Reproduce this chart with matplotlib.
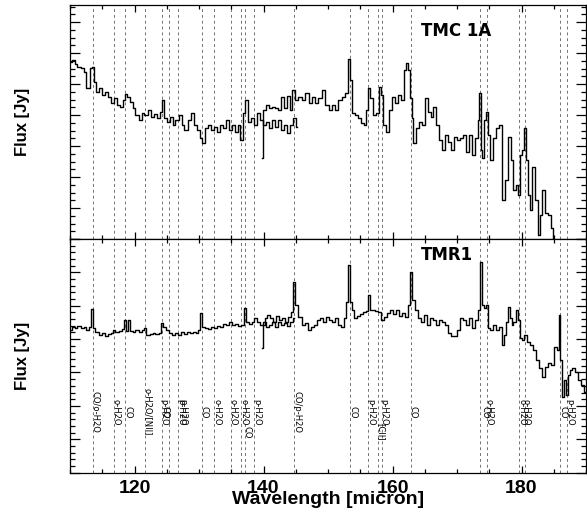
import matplotlib
matplotlib.use('Agg')
import matplotlib.pyplot as plt
from matplotlib.ticker import MultipleLocator

# TMC 1A, two overlapping spectral segments (wavelength in micron, flux in Jy)
tmc_wave_a = [110.0, 110.5, 110.9, 111.4, 111.9, 112.3, 112.8, 113.3, 113.6, 113.9,
              114.2, 114.7, 115.1, 115.6, 116.1, 116.5, 117.0, 117.5, 117.9, 118.4,
              118.7, 119.0, 119.5, 119.9, 120.4, 120.9, 121.3, 121.8, 122.3, 122.7,
              123.2, 123.7, 124.1, 124.3, 124.8, 125.2, 125.7, 126.1, 126.6, 127.1,
              127.5, 128.0, 128.5, 128.9, 129.4, 129.9, 130.3, 130.7, 131.1, 131.6,
              132.0, 132.5, 133.0, 133.4, 133.9, 134.4, 134.8, 135.3, 135.8, 136.2,
              136.6, 137.0, 137.3, 137.8, 138.3, 138.7, 139.2, 139.7, 140.1, 140.6,
              141.1, 141.5, 142.0, 142.5, 142.9, 143.4, 143.9, 144.3, 144.8, 145.2]
tmc_flux_a = [5.71, 5.77, 5.65, 5.55, 5.52, 5.39, 4.87, 5.52, 5.55, 5.06,
              4.74, 4.87, 4.65, 4.74, 4.58, 4.39, 4.55, 4.32, 4.26, 4.48,
              4.68, 4.58, 4.42, 4.23, 4.00, 3.84, 4.06, 4.00, 4.16, 3.94,
              4.03, 3.90, 4.10, 4.48, 3.90, 3.77, 3.94, 3.68, 3.84, 4.00,
              3.68, 3.52, 3.84, 4.06, 3.68, 3.52, 3.26, 3.10, 3.58, 3.68,
              3.52, 3.61, 3.45, 3.68, 3.58, 3.84, 3.52, 3.68, 3.45, 3.68,
              3.19, 4.06, 4.48, 3.77, 3.90, 3.68, 4.06, 3.84, 3.68, 3.77,
              3.58, 3.84, 3.61, 3.84, 3.52, 3.68, 3.42, 3.68, 3.90, 3.60]

tmc_wave_b = [139.8, 140.1, 140.6, 141.1, 141.5, 142.0, 142.5, 142.9, 143.4, 143.9,
              144.3, 144.6, 145.1, 145.7, 146.2, 146.8, 147.3, 147.7, 148.2, 148.8,
              149.3, 149.8, 150.4, 150.8, 151.3, 151.9, 152.4, 152.9, 153.2, 153.5,
              153.9, 154.4, 154.9, 155.3, 155.8, 156.1, 156.4, 156.7, 157.2, 157.7,
              158.0, 158.3, 158.8, 159.2, 159.7, 160.2, 160.6, 161.1, 161.6, 161.9,
              162.2, 162.5, 162.8, 163.1, 163.4, 163.9, 164.3, 164.8, 165.3, 165.7,
              166.2, 166.5, 167.0, 167.5, 167.9, 168.4, 168.9, 169.3, 169.8, 170.2,
              170.7, 171.2, 171.6, 172.1, 172.6, 173.0, 173.4, 173.5, 173.8, 174.0,
              174.4, 174.6, 174.9, 175.4, 175.8, 176.3, 176.8, 177.2, 177.7, 178.2,
              178.6, 178.9, 179.3, 179.6, 179.9, 180.2, 180.5, 180.8, 181.1, 181.4,
              181.9, 182.4, 182.7, 183.1, 183.4, 183.9, 184.4, 184.7, 185.0, 185.5]
tmc_flux_b = [2.61, 4.16, 4.32, 4.23, 4.26, 4.23, 4.16, 4.58, 4.23, 4.61,
              4.16, 4.81, 4.48, 4.58, 4.48, 4.71, 4.39, 4.58, 4.39, 4.55,
              4.81, 4.32, 4.16, 4.32, 4.16, 4.48, 4.58, 4.71, 5.81, 5.13,
              4.06, 4.00, 3.90, 3.74, 3.68, 4.16, 4.87, 4.55, 4.00, 4.06,
              4.90, 4.65, 3.68, 3.45, 4.16, 4.58, 4.39, 4.65, 4.48, 5.45,
              5.68, 5.45, 4.55, 3.90, 3.10, 3.58, 3.77, 3.68, 4.55, 4.10,
              3.94, 4.26, 3.68, 3.19, 2.87, 3.35, 3.13, 2.87, 3.29, 3.19,
              3.26, 3.35, 2.81, 3.35, 2.71, 3.26, 3.84, 4.71, 2.87, 2.61,
              3.84, 4.10, 3.35, 2.55, 3.26, 3.58, 3.68, 1.26, 1.90, 3.29,
              2.55, 1.58, 1.74, 1.42, 2.71, 2.87, 3.58, 2.55, 1.42, 0.94,
              2.32, 1.26, 0.13, 0.77, 1.58, 0.84, 0.77, 0.35, -0.20, -0.80]

# TMR1
tmr_wave_a = [110.0, 110.5, 110.9, 111.4, 111.9, 112.3, 112.8, 113.1, 113.4, 113.7,
              114.2, 114.7, 115.1, 115.6, 116.1, 116.5, 116.8, 117.3, 117.8, 118.2,
              118.5, 118.9, 119.2, 119.5, 119.9, 120.4, 120.9, 121.3, 121.6, 122.1,
              122.6, 123.0, 123.5, 124.0, 124.3, 124.6, 125.1, 125.5, 126.0, 126.5,
              126.9, 127.4, 127.9, 128.3, 128.8, 129.3, 129.7, 130.0, 130.3, 130.7,
              131.1, 131.6, 132.0, 132.5, 133.0, 133.4, 133.9, 134.4, 134.8, 135.3,
              135.8, 136.2, 136.7, 137.2, 137.5, 138.0, 138.4, 138.7, 139.2, 139.7,
              140.1, 140.6, 141.1, 141.5, 142.0, 142.5, 142.9, 143.4, 143.9, 144.3,
              144.8]
tmr_flux_a = [4.28, 4.37, 4.34, 4.40, 4.34, 4.37, 4.28, 4.37, 4.91, 4.34,
              4.22, 4.13, 4.19, 4.10, 4.16, 4.19, 4.28, 4.22, 4.25, 4.31,
              4.58, 4.25, 4.58, 4.25, 4.22, 4.28, 4.22, 4.28, 4.34, 4.13,
              4.16, 4.19, 4.16, 4.19, 4.49, 4.37, 4.28, 4.19, 4.13, 4.19,
              4.13, 4.22, 4.16, 4.22, 4.19, 4.22, 4.19, 4.28, 4.79, 4.37,
              4.34, 4.31, 4.37, 4.34, 4.40, 4.37, 4.46, 4.43, 4.52, 4.43,
              4.46, 4.40, 4.43, 4.93, 4.52, 4.46, 4.52, 4.64, 4.52, 4.43,
              4.52, 4.37, 4.43, 4.52, 4.37, 4.52, 4.43, 4.49, 4.40, 4.52,
              4.64]

tmr_wave_b = [139.8, 140.1, 140.4, 140.7, 141.2, 141.7, 142.1, 142.6, 143.1, 143.5,
              144.0, 144.5, 144.8, 145.1, 145.7, 146.2, 146.6, 147.1, 147.6, 148.0,
              148.5, 149.0, 149.4, 149.9, 150.4, 150.8, 151.3, 151.8, 152.2, 152.7,
              153.0, 153.2, 153.5, 153.8, 154.3, 154.7, 155.2, 155.7, 156.0, 156.3,
              156.6, 157.1, 157.5, 158.0, 158.4, 158.9, 159.4, 159.8, 160.3, 160.8,
              161.2, 161.7, 162.2, 162.6, 162.9, 163.3, 163.7, 164.2, 164.7, 165.1,
              165.6, 166.1, 166.5, 167.0, 167.5, 167.9, 168.4, 168.9, 169.3, 169.8,
              170.2, 170.7, 171.2, 171.6, 172.1, 172.6, 173.0, 173.4, 173.7, 174.0,
              174.3, 174.6, 174.9, 175.4, 175.8, 176.3, 176.8, 177.1, 177.4, 177.7,
              178.0, 178.3, 178.6, 178.9, 179.3, 179.6, 179.9, 180.2, 180.7, 181.1,
              181.6, 182.1, 182.5, 183.0, 183.4, 183.9, 184.4, 184.8, 185.3, 185.6,
              185.9, 186.1, 186.4, 186.7, 187.0, 187.3, 187.6, 188.1, 188.6, 189.0,
              189.5, 190.0]
tmr_flux_b = [3.74, 4.43, 4.64, 4.73, 4.64, 4.52, 4.70, 4.58, 4.64, 4.52,
              4.67, 4.82, 5.72, 5.03, 4.67, 4.43, 4.49, 4.28, 4.37, 4.43,
              4.58, 4.64, 4.52, 4.67, 4.58, 4.52, 4.64, 4.43, 4.37, 4.64,
              5.11, 6.23, 5.11, 4.88, 4.64, 4.70, 4.76, 4.82, 4.85, 5.33,
              4.88, 4.88, 4.85, 4.82, 4.58, 4.67, 4.79, 4.88, 4.76, 4.88,
              4.70, 4.79, 4.67, 5.03, 6.01, 5.18, 4.88, 4.64, 4.52, 4.73,
              4.43, 4.64, 4.58, 4.43, 4.58, 4.52, 4.43, 4.19, 4.10, 4.10,
              4.28, 4.64, 4.58, 4.43, 4.64, 4.34, 4.58, 4.88, 6.31, 5.03,
              4.94, 5.03, 4.34, 4.28, 4.43, 4.28, 4.37, 3.83, 4.13, 4.52,
              4.97, 4.64, 4.43, 4.52, 4.88, 4.58, 4.04, 3.98, 4.13, 3.92,
              3.83, 3.68, 3.38, 3.14, 2.87, 3.17, 3.29, 3.23, 3.77, 3.68,
              4.73, 3.38, 2.27, 2.77, 2.33, 2.93, 3.08, 3.14, 3.02, 2.77,
              2.63, 2.42]

# identified lines (micron)
line_waves = [113.5, 116.8, 118.6, 121.7, 124.2, 125.4, 126.7, 130.4, 132.4, 134.9,
              136.5, 137.1, 138.5, 144.8, 153.4, 156.2, 157.7, 158.3, 162.8, 173.6,
              174.6, 179.6, 180.5, 186.0, 187.1]

# labels: wavelength of the line, text, drawn lower
label_waves = [113.5, 116.8, 118.6, 121.7, 124.2, 124.4, 126.7, 127.1, 130.4, 132.4,
               134.9, 136.5, 137.1, 138.5, 144.8, 153.4, 156.2, 157.7, 158.3, 162.8,
               173.9, 174.6, 179.6, 180.3, 186.0, 187.1]
label_text = ['CO/o-H2O', 'o-H2O', 'CO', 'o-H2O/[NII]', 'p-H2O', 'CO', 'p-H2O', 'p-H2O',
              'CO', 'o-H2O', 'o-H2O', 'o-H2O', 'CO', 'p-H2O', 'CO/p-H2O', 'CO', 'p-H2O',
              '[CII]', 'p-H2O', 'CO', 'CO', 'o-H2O', 'o-H2O', 'o-H2O', 'CO', 'p-H2O']
label_low = [False, False, False, False, False, False, False, False,
             False, False, False, False, True, False, False, False, False,
             True, False, False, False, False, False, False, False, False]

fig = plt.figure(figsize=(5.87, 5.19), dpi=100)
ax1 = fig.add_axes([70/587, 1-239/519, 516/587, 234/519])
ax2 = fig.add_axes([70/587, 1-472.6/519, 516/587, 233.6/519])

for ax in (ax1, ax2):
    for w in line_waves:
        ax.axvline(w, color='0.45', ls=(0, (3, 3)), lw=0.7, zorder=1)
    ax.set_xlim(110, 190)
    ax.xaxis.set_major_locator(MultipleLocator(20))
    ax.xaxis.set_minor_locator(MultipleLocator(5))
    ax.tick_params(which='both', direction='in', top=True, right=True, width=0.9)
    ax.tick_params(axis='x', which='major', length=5)
    ax.tick_params(axis='x', which='minor', length=2.8)
    ax.tick_params(axis='y', which='major', length=7)
    ax.tick_params(axis='y', which='minor', length=3.6)
    ax.tick_params(labelleft=False)
    for s in ax.spines.values():
        s.set_linewidth(0.9)

ax1.plot(tmc_wave_a, tmc_flux_a, drawstyle='steps-mid', color='black', lw=1.0, zorder=3)
ax1.plot(tmc_wave_b, tmc_flux_b, drawstyle='steps-mid', color='black', lw=1.0, zorder=3)
ax1.set_ylim(0, 7.55)
ax1.yaxis.set_major_locator(MultipleLocator(1))
ax1.yaxis.set_minor_locator(MultipleLocator(0.25))
ax1.tick_params(labelbottom=False)
ax1.text(169.8, 6.71, 'TMC 1A', fontsize=12, fontweight='bold', ha='center', va='center')

ax2.plot(tmr_wave_a, tmr_flux_a, drawstyle='steps-mid', color='black', lw=1.0, zorder=3)
ax2.plot(tmr_wave_b, tmr_flux_b, drawstyle='steps-mid', color='black', lw=1.0, zorder=3)
ax2.set_ylim(0, 7.0)
ax2.yaxis.set_major_locator(MultipleLocator(1))
ax2.yaxis.set_minor_locator(MultipleLocator(0.2))
ax2.text(168.4, 6.53, 'TMR1', fontsize=12, fontweight='bold', ha='center', va='center')

for w, t, low in zip(label_waves, label_text, label_low):
    ax2.text(w + 0.4, 1.22 if low else 1.82, t, rotation=-90, ha='center', va='center',
             fontsize=6, family=['Liberation Sans Narrow', 'DejaVu Sans'], zorder=4)

for lab in ax2.get_xticklabels():
    lab.set_family('Liberation Sans')
    lab.set_fontweight('bold')
    lab.set_fontsize(14)
ax2.tick_params(axis='x', pad=5)

fig.text(23/587, 1-122/519, 'Flux [Jy]', rotation=90, ha='center', va='center',
         fontsize=12, fontweight='bold', family='Liberation Sans')
fig.text(23/587, 1-356/519, 'Flux [Jy]', rotation=90, ha='center', va='center',
         fontsize=12, fontweight='bold', family='Liberation Sans')
fig.text(328/587, 1-500/519, 'Wavelength [micron]', ha='center', va='center',
         fontsize=14, fontweight='bold', family='Liberation Sans')

fig.savefig('out.png', dpi=100)
